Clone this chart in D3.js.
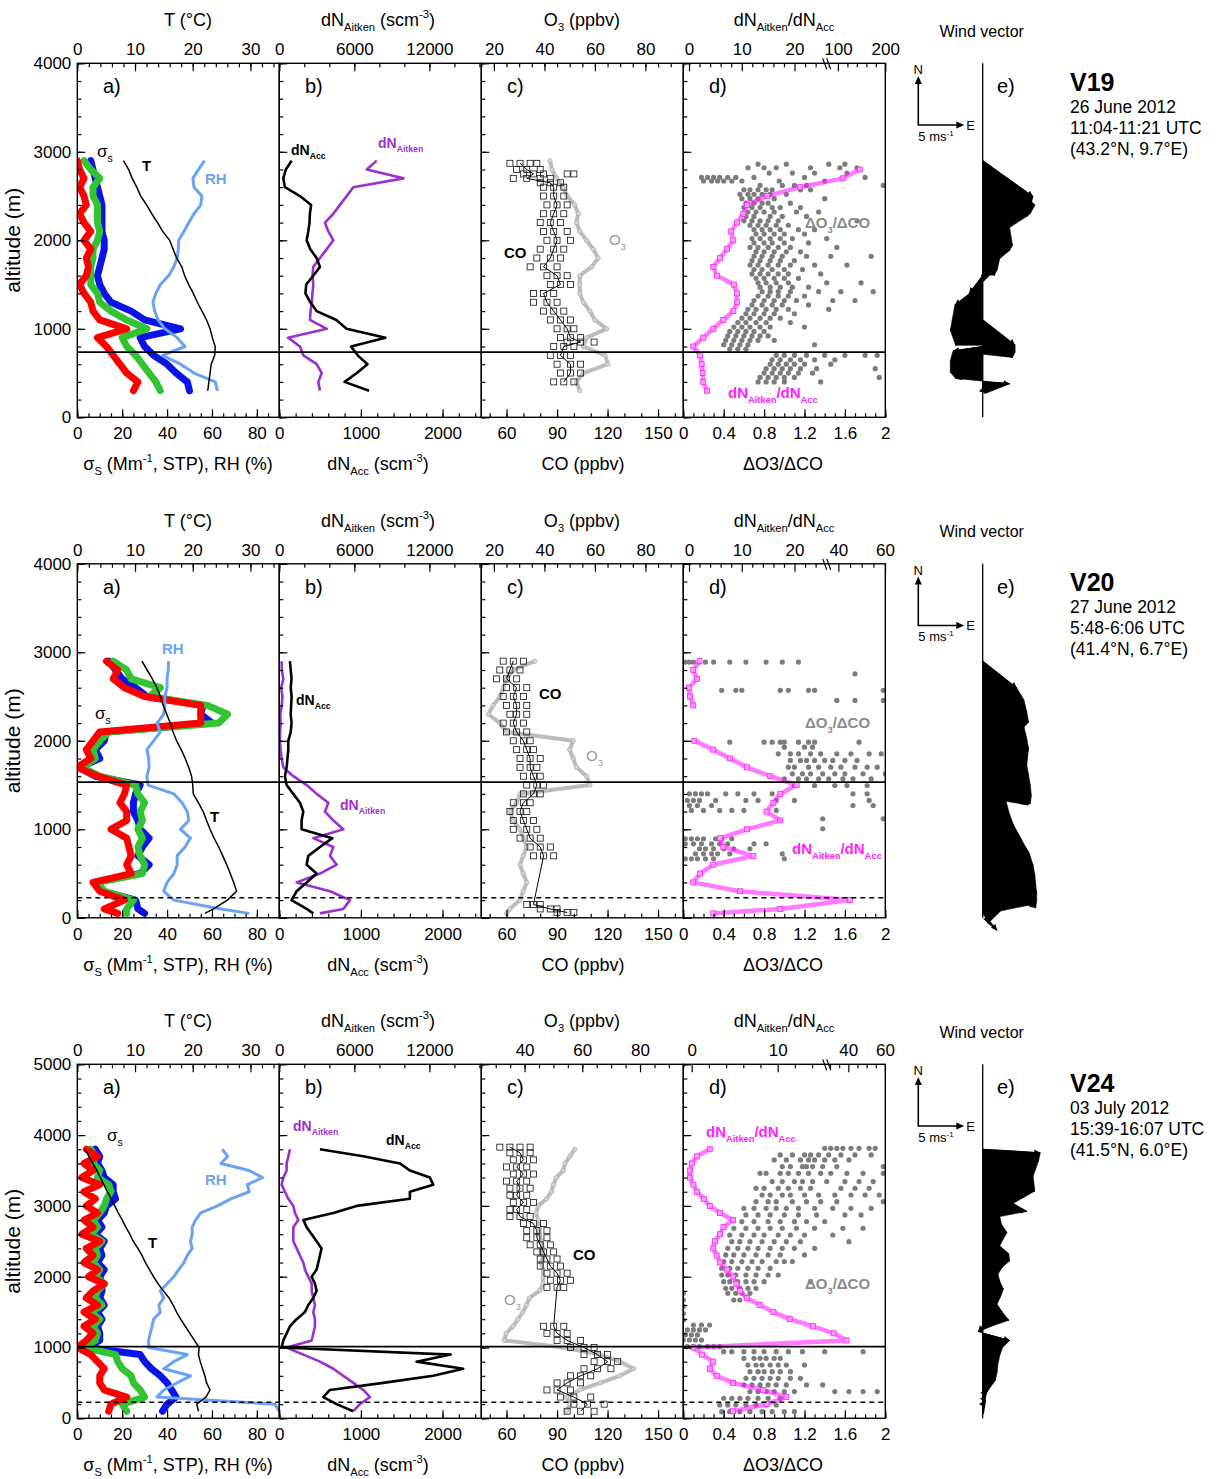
<!DOCTYPE html>
<html>
<head>
<meta charset="utf-8">
<script src="https://cdn.jsdelivr.net/npm/d3@7"></script>
<style>
  body { margin: 0; background: #fff; }
  svg { font-family: "Liberation Sans", Arial, sans-serif; }
</style>
</head>
<body>
<svg id="chart" width="1220" height="1479"></svg>
<script>
// ---------------- data: flight V19 ----------------
const alt1 = [300,400,500,600,700,800,900,1000,1100,1200,1300,1400,1500,1600,1700,1800,1900,2000,2100,2200,2300,2400,2500,2600,2700,2800,2900];
const sigR1 = [25,27,22,19,16,13,9,22,10,7,6,3,1,4,5,4,6,3,6,3,1,4,3,1,3,1,0];
const sigG1 = [37,35,32,29,26,22,20,31,22,15,10,9,6,6,6,7,7,9,10,9,9,9,7,7,10,6,3];
const sigB1 = [50,49,44,40,34,30,28,46,30,24,15,12,10,9,10,11,12,12,11,11,11,11,10,9,8,7,6];
const T1 = [22.6,22.8,23.0,23.2,23.8,23.9,23.4,23.0,22.4,21.6,20.8,20.1,19.3,18.6,18.1,17.2,16.6,16.0,14.8,13.9,12.9,12.0,11.0,10.3,9.5,8.9,8.0];
const RH1 = [62.4,61.5,52,46,38,48,44.5,39,36,34.5,33.7,35,37,40.7,43,44.5,45,45.2,47.5,49.7,52,55,55.5,52,51.5,54,56.7];
const acc1 = [1100,800,950,1080,960,880,1300,824,700,457,380,320,330,416,498,457,380,335,355,370,375,390,253,69,49,80,151];
const ait1 = [3250,3120,3390,2990,1920,1650,700,3800,2450,2500,2590,2650,2720,2650,2720,3250,3790,4320,3920,3650,4320,4850,5390,5920,9920,6990,7790];
const o3_1 = [54,52.7,55.4,65.2,64,55.4,56.7,64.6,60,58,55.4,54,54,54,58.7,61.3,59.3,56.7,54,52.7,53.4,52,49,47.4,44.8,43,42.2];
const rat1 = [3.4,2.7,2.6,2.4,2.1,0.8,2.7,4.6,6.5,8.4,9.1,9.1,8.5,5.3,4.6,5.9,7.2,8.4,8.0,9.1,10.3,11,14.8,21,110,146,null];
const u1 = [0.3,3.0,-3.0,-3.6,-3.6,-3.3,3.3,3.6,3.6,-3.0,-3.6,-3.4,-3.1,-1.5,0.2,0.8,1.3,1.6,1.9,3.0,3.3,3.0,5.0,5.3,5.8,5.3,5.6];
const v1 = [-0.3,-0.2,-0.6,-0.9,-0.6,-0.5,-2.2,-2.6,-2.8,-3.8,-3.1,-3.0,-2.3,-2.0,-1.5,-1.9,-2.9,-3.3,-3.0,-3.1,-3.5,-2.5,-2.2,-2.9,-3.0,-4.0,-4.0];
const co1 = [
  [2870,62,68,74,78],[2800,66,72,80],[2750,70,76,82,96,100],[2700,64,72,80,86],[2650,80,86,92],
  [2600,82,88,94],[2500,82,88,94],[2400,84,90,96],[2300,82,88,94],[2200,80,86,92],[2100,82,88,96],
  [2000,84,90,98],[1900,80,88,94],[1800,78,86,92],[1700,74,82,90],[1600,84,90,96],[1500,86,92,98],
  [1400,76,82,88],[1300,76,84,90],[1200,82,88,94],[1100,86,92,98],[1000,90,96,100],[900,92,98,104],
  [850,96,104,112],[800,88,94,100],[700,86,92,98],[600,90,98,104],[500,92,98,104],[400,88,94,100]
];
const dots1 = [
  [2860,0.74,1.02,1.44,1.60],[2820,0.64,0.80,0.92,1.26,1.55,1.72],[2760,0.85,1.08,1.30,1.62],
  [2710,0.18,0.24,0.30,0.36,0.44,0.52,0.70,1.20,1.80],[2670,0.20,0.28,0.34,0.40,0.48,0.58,0.95,1.40],
  [2620,0.76,0.98,1.10,1.22,1.98],[2570,0.60,0.66,0.74,0.82,0.88,1.16,1.26],[2520,0.56,0.64,0.70,0.78,0.86,1.02],
  [2470,0.58,0.66,0.74,0.90,1.40],[2420,0.62,0.70,0.78,0.84,1.06],[2370,0.60,0.68,0.76,0.88,0.96,1.16],
  [2320,0.64,0.72,0.80,0.90,1.12,1.34],[2270,0.62,0.70,0.86,0.98,1.22],[2220,0.60,0.68,0.76,0.84,0.94,1.72],
  [2170,0.66,0.74,0.82,0.92,1.04],[2120,0.70,0.78,0.86,0.96,1.14,1.30],[2070,0.72,0.80,0.90,1.00,1.20],
  [2020,0.68,0.76,0.86,0.96,1.08,1.42],[1970,0.70,0.80,0.88,1.00,1.24],[1920,0.66,0.74,0.84,0.94,1.06,1.52],
  [1870,0.72,0.80,0.90,1.02,1.16],[1820,0.70,0.78,0.88,0.98,1.22,1.46,1.86],[1770,0.68,0.76,0.86,0.96,1.10],
  [1720,0.66,0.74,0.84,0.94,1.06,1.30,1.62],[1670,0.70,0.78,0.88,1.00,1.18],[1620,0.68,0.76,0.84,0.94,1.04,1.36],
  [1570,0.72,0.80,0.90,1.00,1.14],[1520,0.74,0.82,0.92,1.04,1.42,1.76],[1470,0.76,0.86,0.96,1.08,1.24],
  [1420,0.78,0.86,0.94,1.06,1.34,1.56,1.88],[1370,0.74,0.84,0.94,1.04,1.20],[1320,0.70,0.80,0.90,1.00,1.12,1.48,1.70],
  [1270,0.68,0.78,0.88,0.98,1.24],[1220,0.64,0.72,0.82,0.92,1.04,1.44],[1170,0.62,0.70,0.80,0.90,1.10],
  [1120,0.58,0.66,0.76,0.86,0.96],[1070,0.54,0.62,0.72,0.82,1.06],[1020,0.50,0.58,0.66,0.76,0.86,1.20],
  [970,0.46,0.54,0.62,0.70,0.80],[920,0.44,0.52,0.60,0.68,0.76,0.84],[870,0.42,0.50,0.58,0.66,0.74,0.90],
  [820,0.40,0.48,0.56,0.64,1.30],[770,0.46,0.54,0.62],[700,0.92,1.00,1.10,1.22,1.40,1.60,1.80,1.92],
  [650,0.88,0.96,1.06,1.16,1.30,1.50],[600,0.86,0.94,1.02,1.10,1.20,1.46],[550,0.82,0.90,0.98,1.06,1.16,1.32,1.90],
  [500,0.80,0.88,0.96,1.04,1.14,1.28],[450,0.76,0.84,0.92,1.00,1.10,1.94],[400,0.74,0.82,0.90,1.00,1.36]
];

// ---------------- data: flight V20 ----------------
const alt2 = [50,100,200,300,400,500,600,700,800,900,1000,1100,1200,1300,1400,1500,1600,1700,1800,1900,2000,2100,2200,2300,2400,2500,2600,2700,2800,2900];
const sigR2 = [18,12,21,10,7,24,22,24,23,22,15,22,22,19,21,22,9,0,6,4,7,10,55,55,55,30,21,16,18,13];
const sigG2 = [22,22,25,12,9,29,30,28,27,29,27,29,28,30,27,26,10,2,8,7,10,14,63,67,58,32,37,24,22,16];
const sigB2 = [30,27,26,11,8,28,32,27,29,32,28,27,25,25,26,28,8,1,10,8,12,13,60,55,56,31,26,20,17,14];
const T2 = [22.1,23.6,26.0,27.6,27.1,26.5,25.9,25.2,24.5,23.7,23.0,22.4,21.8,21.0,20.1,20.0,19.8,19.3,18.7,18.0,17.2,16.6,16.1,15.5,14.9,14.4,13.8,13.0,12.1,11.2];
const RH2 = [76.6,64,43,38.5,40,43,44.5,44.5,48,50.4,46,49.7,49,46.7,43,31.5,31,32,31.8,31,34,37,35.5,38.5,39,39,40,40,40.5,40.7];
const acc2 = [416,335,150,212,335,457,335,355,498,650,273,273,294,253,171,90,69,90,100,110,110,140,150,140,145,151,140,150,140,130];
const ait2 = [3250,5120,5650,4050,1390,3250,4590,4050,4320,2720,5120,4320,3650,3920,2990,2190,1120,320,187,100,53,60,110,80,200,250,150,320,200,187];
const o3_2 = [25,26.3,30.3,31.6,33,31.6,30.3,31.6,33,31.6,30.3,27.7,26.3,29,30.3,58,56.7,52.7,51.4,50,51.4,25,22.4,17.8,19.7,22.4,23.7,25,27.7,36.2];
const rat2 = [4.6,17.3,45,9.7,0.8,2.1,4.6,12.2,6.5,5.9,11,17.3,14.7,16,17.3,20.4,15.4,11,7.8,4.6,1.0,null,null,null,0.8,0.2,0,1.5,0.8,2];
const u2 = [1.6,0.6,2.0,4.8,5.6,5.9,6.0,6.0,5.9,5.8,5.6,5.2,4.3,3.4,2.9,2.6,5.0,5.3,5.4,5.3,5.1,4.9,5.0,5.1,4.9,4.6,5.1,4.9,4.6,3.8];
const v2 = [-1.9,-1.6,-1.2,-1.6,-2.5,-3.8,-4.0,-4.1,-4.2,-4.1,-4.0,-3.7,-3.1,-2.4,-2.0,-1.8,-3.2,-4.0,-4.1,-4.0,-3.8,-3.7,-3.7,-3.8,-3.7,-3.4,-3.8,-3.7,-3.4,-3.0];
const co2 = [
  [2900,58,64,70],[2800,56,62,68],[2700,54,60,66],[2600,60,66,72],[2500,58,64,70],[2400,60,66,72],
  [2300,62,66,72],[2200,58,64,70],[2100,60,66,72],[2000,64,70,74],[1900,66,72,76],[1800,68,74,80],
  [1700,68,74,78],[1600,70,76,80],[1500,72,78,82],[1400,70,76,80],[1300,64,70,74],[1200,62,68,72],
  [1100,64,70,76],[1000,64,72,78],[900,68,74,80],[800,74,80,86],[700,76,82,88],
  [150,72,76,80],[100,80,86,90],[60,90,96,100]
];
const dots2 = [
  [2890,0.02,0.06,0.10,0.16,0.22,0.30,0.46,0.62,0.82,0.98,1.14],[2757,1.70],
  [2570,0.38,0.52,0.58,0.96,1.04,1.24,1.30,1.98],[2456,1.52,1.70,1.98],
  [1985,0.46,0.80,0.88,0.96,1.00,1.14,1.24,1.30,1.74],[1928,1.00,1.20,1.28],
  [1853,0.94,1.06,1.14,1.26,1.36,1.52,1.66,1.84,1.96],[1778,1.06,1.16,1.22,1.30,1.40,1.48,1.60,1.72],
  [1702,1.04,1.10,1.24,1.34,1.46,1.56,1.70,1.82,1.92],[1627,1.08,1.18,1.26,1.38,1.50,1.60,1.78,2.00],
  [1570,1.00,1.14,1.22,1.34,1.44,1.58,1.68,1.86],[1495,1.10,1.30,1.50,1.62,1.82],
  [1401,0.06,0.12,0.18,0.24,0.42,0.54,0.70,0.88,1.68,1.82],[1326,0.04,0.10,0.16,0.32,0.62,0.74,0.92,1.10,1.84],
  [1269,0.06,0.14,0.28,1.68,1.88],[1213,0.08,0.20,0.36,0.48,0.60,0.92],[1119,1.38,1.98],[1006,1.38],
  [893,0.02,0.08,0.14,0.20,0.32,0.38,0.48],[836,0.02,0.10,0.18,0.28,0.36,0.44,0.70,0.82],
  [780,0.16,0.22,0.30,0.40,0.50,0.66],[723,0.12,0.20,0.28,0.34,0.46,0.98],[667,0.02,0.08,0.14,0.22,0.30,1.00]
];

// ---------------- data: flight V24 ----------------
const alt3 = [100,200,300,400,500,600,700,800,900,1000,1100,1200,1300,1400,1500,1600,1700,1800,1900,2000,2100,2200,2300,2400,2500,2600,2700,2800,2900,3000,3100,3200,3300,3400,3500,3600,3700,3800];
const sigR3 = [14,15,22,12,10,10,12,9,6,0,4,7,3,8,3,9,4,7,12,5,9,3,7,4,10,2,7,3,9,4,8,3,10,2,7,3,9,4];
const sigG3 = [22,20,30,28,25,24,20,18,17,3,8,9,7,10,6,11,8,9,12,8,10,7,9,8,11,6,9,7,10,12,13,15,14,9,10,7,8,6];
const sigB3 = [38,40,44,42,40,37,33,30,28,4,10,10,9,11,9,12,10,11,11,10,12,9,11,10,12,8,11,9,12,13,17,16,16,12,11,9,10,8];
const T3 = [21.0,20.7,22.3,23.0,22.4,22.1,21.7,21.3,21.0,21.1,20.3,19.5,18.7,17.9,17.2,16.6,15.9,14.9,14.0,13.2,12.5,11.8,11.2,10.5,9.7,9.1,8.4,7.8,7.1,6.5,5.9,5.2,4.6,4.0,3.4,2.7,2.0,1.4];
const RH3 = [90,88,35.5,38.5,44.5,50.4,38.5,43,49,31.8,31.8,32.5,33.3,34,37,36.3,38.5,37,40,43,45.2,47.5,49,51.2,50.4,51.2,51.2,52.7,55,62.4,68.4,76.6,75.8,82.5,76.6,64,67,64.6];
const acc3 = [906,702,539,620,1273,1886,2253,1682,2100,29,49,90,131,212,314,355,416,457,437,396,457,478,498,518,457,396,335,294,661,947,1600,1600,1886,1845,1600,1478,1029,498];
const ait3 = [5920,6450,7250,6720,5920,5120,4320,3250,1920,587,2590,2720,2850,2850,2720,2850,2720,2590,2590,2320,2050,1920,1650,1390,1120,1120,1120,1520,1253,1120,720,450,187,320,587,587,720,853];
const o3_3 = [54.5,55.7,54.5,59.2,66.2,73,77.8,73.1,66.2,53.4,33,33.6,36,37.7,39.4,40.6,41.7,45.2,46.4,46.4,46.4,45.8,46.4,46.4,45.8,45.2,45.2,44.7,44,44.7,47.6,49.3,50,51,53.4,54,55.7,57.4];
const rat3 = [4.8,8.7,11,8.3,4.8,2.9,2.1,2.5,1.2,0.2,39,32,14.1,11.4,9.5,7.9,6.4,5.6,5.2,4.8,4.1,3.3,2.9,2.5,2.7,3.3,3.7,4.8,3.3,2.1,1.4,0.6,0.2,-0.2,-0.2,0,0.6,2.1];
const u3 = [0.1,0.2,0.3,0.3,0.5,0.9,1.4,1.6,1.7,1.9,2.2,3.0,-0.5,1.2,2.9,2.2,1.6,2.0,2.3,1.9,1.7,2.2,3.0,2.9,1.9,2.3,2.7,2.1,1.9,4.9,3.4,4.6,5.8,5.7,5.6,5.9,6.2,6.4];
const v3 = [-0.3,-0.4,-0.6,-0.8,-1.0,-1.2,-1.3,-1.2,-1.0,-0.9,-0.8,-0.8,-0.6,-0.7,-0.9,-0.8,-0.7,-0.6,-0.6,-0.5,-0.5,-0.5,-0.6,-0.6,-0.5,-0.5,-0.6,-0.5,-0.4,-0.6,-0.5,-0.6,-0.7,-0.7,-0.6,-0.6,-0.5,-0.4];
const co3 = [
  [3830,56,62,68,74],[3750,62,68,74],[3650,64,70,76],[3550,60,66,72],[3450,64,70,76],[3350,60,66,72],
  [3250,62,68,74],[3150,62,66,72],[3050,64,70,76],[2950,62,66,72],[2850,62,68,74],[2750,70,76,82],
  [2650,72,78,84],[2550,72,78,84],[2450,74,80,86],[2350,78,82,88],[2250,80,84,90],[2150,80,86,92],
  [2050,84,90,96],[1950,86,92,98],[1850,84,90,94],[1300,82,88,94],[1200,84,90,96],[1100,90,96,104],
  [1000,98,106,112],[900,106,114,120],[800,112,120,126],[700,106,114,122],[600,98,104,110],
  [500,90,96,104],[400,84,90,98],[300,92,100,110],[200,100,108,118],[100,96,104,112]
];
const dots3 = [
  [3813,1.40,1.46,1.52,1.58,1.66,1.74,1.84,1.90],[3720,0.96,1.08,1.20,1.26,1.34,1.44,1.56,1.70,1.86],
  [3650,0.90,1.02,1.16,1.24,1.30,1.40,1.50,1.64],[3555,0.98,1.06,1.18,1.22,1.28,1.38,1.52,1.98],
  [3460,0.76,0.82,0.96,1.04,1.14,1.24,1.36,1.46,1.62,1.78,1.98],[3343,0.88,0.98,1.10,1.18,1.28,1.42,1.60,1.74,1.88],
  [3249,0.72,0.80,0.94,1.04,1.16,1.26,1.56,1.70,1.84],[3154,0.78,0.86,0.98,1.06,1.20,1.34,1.50,1.66,1.80,1.94],
  [3060,0.72,0.84,0.92,1.08,1.22,1.36,1.52,1.98],[2966,0.60,0.70,0.82,0.92,1.02,1.14,1.30,1.48,1.66,1.86],
  [2872,0.62,0.74,0.86,1.00,1.14,1.32,1.60,1.76],[2778,0.58,0.70,0.84,0.96,1.10,1.22,1.40],
  [2684,0.50,0.62,0.74,0.86,0.98,1.12,1.30,1.58,1.78],[2589,0.46,0.58,0.70,0.80,0.94,1.06,1.20,1.48],
  [2495,0.48,0.56,0.66,0.78,0.90,1.02,1.16,1.64],[2401,0.44,0.54,0.64,0.74,0.86,0.98,1.10,1.30],
  [2307,0.42,0.50,0.60,0.72,0.84,0.96,1.20],[2213,0.40,0.48,0.58,0.68,0.78,0.92,1.00,1.08],
  [2119,0.38,0.46,0.54,0.64,0.74,0.86],[2024,0.38,0.44,0.52,0.62,0.72,0.84,0.94],
  [1930,0.40,0.46,0.54,0.62,0.70,0.80,1.26],[1836,0.42,0.48,0.56,0.64,0.72],[1766,0.44,0.52,0.58,0.66,0.0],
  [1671,0.50,0.56,0.0],[1580,0.0],[1480,0.0],[1390,0.0],
  [1318,0.10,0.18,0.26],[1248,0.04,0.10,0.16,0.22],[1177,0.02,0.08,0.14],[1106,0.00,0.06,0.12,0.18],
  [1012,0.04,0.10,0.16,0.24,0.30,0.36],[941,0.40,0.48,0.60,0.70,0.80,0.92,1.04,1.18,1.40,1.78],
  [847,0.60,0.70,0.76,0.82,0.90,0.96],[753,0.64,0.72,0.78,0.86,0.94,1.02,1.20],
  [659,0.66,0.74,0.80,0.88,0.96,1.06],[565,0.62,0.70,0.78,0.86,0.94,1.06,1.16],
  [471,0.60,0.68,0.76,0.84,0.92,1.02,1.22,1.38],[377,0.66,0.74,0.82,0.90,1.00,1.10,1.50,1.64,1.78,1.92],
  [282,0.40,0.48,0.56,0.64,0.74,0.84,0.96],[188,0.36,0.44,0.52,0.62,0.72,0.82,0.92],
  [94,0.38,0.46,0.56,0.66,0.78,0.88,1.00,1.10]
];

// boundary-layer lines [solid, dashed] in m
const refLines = [[736, null], [1533, 226], [1012, 226]];

// tick labels
const tTicks = [0, 10, 20, 30];
const sigTicks = [0, 20, 40, 60, 80];
const aitTicks = [0, 6000, 12000];
const accTicks = [0, 1000, 2000];
const coTicks = [60, 90, 120, 150];
const dTicks = [0, 0.4, 0.8, 1.2, 1.6, 2];
const o3Ticks12 = [20, 40, 60, 80];
const o3Ticks3 = [40, 60, 80];
const ratTicks = [[0, 10, 20, 100, 200], [0, 10, 20, 40, 60], [0, 10, 40, 60]];

const flights = ['V19', 'V20', 'V24'];
const dates = ['26 June 2012', '27 June 2012', '03 July 2012'];
const times = ['11:04-11:21 UTC', '5:48-6:06 UTC', '15:39-16:07 UTC'];
const places = ['(43.2°N, 9.7°E)', '(41.4°N, 6.7°E)', '(41.5°N, 6.0°E)'];

// ---------------- layout ----------------
const svg = d3.select('#chart');
const PW = 202, PH = 354;
const panelX = [77.3, 279.3, 481.3, 683.3];
const windX = 982.7;
const BRK = 143.4;
const ws = d3.scaleLinear().domain([0, 5]).range([0, 45]);

const C = {
  blue: '#0a14e6', green: '#33c433', red: '#ff0000', rh: '#6aa2f6',
  purple: '#9b30cf', pink: '#ff22ff', gray: '#7c7c7c', o3: '#bcbcbc'
};

const rows = [
  { top: 63.3, altMax: 4000, alt: alt1, sigR: sigR1, sigG: sigG1, sigB: sigB1, T: T1, RH: RH1,
    acc: acc1, ait: ait1, o3: o3_1, rat: rat1, co: co1, dots: dots1, u: u1, v: v1, ref: refLines[0],
    o3Dom: [15, 95], o3Ticks: o3Ticks12,
    ratDom: [-1.08, 26.1, 76.3, 200], ratMajor: ratTicks[0],
    ratMinor: [2,4,6,8,12,14,16,18,22,24,80,120,140,160,180],
    lab: { sig: [97, 157], T: [142, 171], RH: [205, 184], acc: [291, 155], ait: [378, 148],
           co: [504, 258], o3: [609, 245], dco: [805, 228], rat: [728, 398] } },
  { top: 563.8, altMax: 4000, alt: alt2, sigR: sigR2, sigG: sigG2, sigB: sigB2, T: T2, RH: RH2,
    acc: acc2, ait: ait2, o3: o3_2, rat: rat2, co: co2, dots: dots2, u: u2, v: v2, ref: refLines[1],
    o3Dom: [15, 95], o3Ticks: o3Ticks12,
    ratDom: [-1.08, 26.1, 35, 60.1], ratMajor: ratTicks[1],
    ratMinor: [2,4,6,8,12,14,16,18,22,24,45,50,55],
    lab: { sig: [95, 719], T: [210, 822], RH: [162, 654], acc: [296, 705], ait: [340, 810],
           co: [539, 699], o3: [586, 761], dco: [805, 728], rat: [792, 854] } },
  { top: 1064.3, altMax: 5000, alt: alt3, sigR: sigR3, sigG: sigG3, sigB: sigB3, T: T3, RH: RH3,
    acc: acc3, ait: ait3, o3: o3_3, rat: rat3, co: co3, dots: dots3, u: u3, v: v3, ref: refLines[2],
    o3Dom: [25, 95], o3Ticks: o3Ticks3,
    ratDom: [-0.98, 15.7, 28.2, 60.2], ratMajor: ratTicks[2],
    ratMinor: [2,4,6,8,12,14,30,35,45,50,55],
    lab: { sig: [107, 1141], T: [148, 1248], RH: [205, 1185], acc: [386, 1145], ait: [293, 1131],
           co: [573, 1260], o3: [504, 1305], dco: [805, 1289], rat: [706, 1137] } }
];

svg.append('defs').append('clipPath').attr('id', 'pclip')
  .append('rect').attr('width', PW).attr('height', PH);

// text with sub/superscripts: parts = [[text, ''|'sub'|'sup'], ...]
function rich(parent, x, y, parts, o) {
  o = o || {};
  const size = o.size || 17;
  const t = parent.append('text').attr('x', x).attr('y', y)
    .attr('font-size', size)
    .attr('text-anchor', o.anchor || 'start')
    .attr('font-weight', o.weight || 'normal')
    .attr('fill', o.fill || '#000');
  if (o.rotate) t.attr('transform', `rotate(${o.rotate},${x},${y})`);
  let shift = 0;
  parts.forEach(([s, k]) => {
    const target = k === 'sub' ? size * 0.3 : k === 'sup' ? -size * 0.42 : 0;
    t.append('tspan').attr('dy', target - shift)
      .attr('font-size', k ? size * 0.62 : size).text(s);
    shift = target;
  });
  return t;
}

function styleAxis(s) {
  s.select('.domain').remove();
  s.attr('font-size', 17).attr('font-family', null);
  s.selectAll('line').attr('stroke-width', 1.2);
}

function axisH(g, scale, where, major, minor, fmt) {
  const mk = where === 'top' ? d3.axisTop : d3.axisBottom;
  const ty = where === 'top' ? 0 : PH;
  g.append('g').attr('transform', `translate(0,${ty})`)
    .call(mk(scale).tickValues(minor).tickSize(-4).tickFormat(''))
    .call(styleAxis);
  g.append('g').attr('transform', `translate(0,${ty})`)
    .call(mk(scale).tickValues(major).tickSize(-8)
      .tickPadding(where === 'top' ? 8 : 10).tickFormat(fmt || (d => String(d))))
    .call(styleAxis);
}

const str = d => String(d);

rows.forEach((r, ri) => {
  const y = d3.scaleLinear().domain([0, r.altMax]).range([PH, 0]);
  const pg = panelX.map(x => svg.append('g').attr('transform', `translate(${x},${r.top})`));
  const dg = pg.map(g => g.append('g').attr('clip-path', 'url(#pclip)'));
  const off = r.top;

  const line = (xsc, vals) => d3.line()
    .defined((d, i) => vals[i] != null)
    .x((d, i) => xsc(vals[i])).y(d => y(d));

  // ---------- a) scattering, T, RH ----------
  const xs = d3.scaleLinear().domain([0, 90]).range([0, PW]);
  const xt = d3.scaleLinear().domain([0, 35]).range([0, PW]);
  [[r.sigB, C.blue], [r.sigG, C.green], [r.sigR, C.red]].forEach(([vals, col]) => {
    dg[0].append('path').datum(r.alt).attr('d', line(xs, vals))
      .attr('fill', 'none').attr('stroke', col).attr('stroke-width', 7)
      .attr('stroke-linejoin', 'round').attr('stroke-linecap', 'round');
  });
  dg[0].append('path').datum(r.alt).attr('d', line(xs, r.RH))
    .attr('fill', 'none').attr('stroke', C.rh).attr('stroke-width', 3).attr('stroke-linejoin', 'round');
  dg[0].append('path').datum(r.alt).attr('d', line(xt, r.T))
    .attr('fill', 'none').attr('stroke', '#000').attr('stroke-width', 1.5);

  // ---------- b) particle number ----------
  const xacc = d3.scaleLinear().domain([0, 2475]).range([0, PW]);
  const xait = d3.scaleLinear().domain([0, 16150]).range([0, PW]);
  dg[1].append('path').datum(r.alt).attr('d', line(xait, r.ait))
    .attr('fill', 'none').attr('stroke', C.purple).attr('stroke-width', 2.6).attr('stroke-linejoin', 'round');
  dg[1].append('path').datum(r.alt).attr('d', line(xacc, r.acc))
    .attr('fill', 'none').attr('stroke', '#000').attr('stroke-width', 2.6).attr('stroke-linejoin', 'round');

  // ---------- c) O3 and CO ----------
  const xco = d3.scaleLinear().domain([45, 165]).range([0, PW]);
  const xo3 = d3.scaleLinear().domain(r.o3Dom).range([0, PW]);
  dg[2].append('path').datum(r.alt).attr('d', line(xo3, r.o3))
    .attr('fill', 'none').attr('stroke', C.o3).attr('stroke-width', 4).attr('stroke-linejoin', 'round');
  dg[2].selectAll('circle.o3').data(r.alt).join('circle').attr('class', 'o3')
    .attr('cx', (d, i) => xo3(r.o3[i])).attr('cy', d => y(d)).attr('r', 2.2)
    .attr('fill', '#d4d4d4').attr('stroke', '#a8a8a8').attr('stroke-width', 0.6);
  dg[2].append('path').datum(r.co)
    .attr('d', d3.line().x(d => xco(d[2])).y(d => y(d[0])))
    .attr('fill', 'none').attr('stroke', '#000').attr('stroke-width', 1);
  const coPts = r.co.flatMap(d => d.slice(1).map(v => [d[0], v]));
  dg[2].selectAll('rect.co').data(coPts).join('rect').attr('class', 'co')
    .attr('x', d => xco(d[1]) - 3).attr('y', d => y(d[0]) - 3)
    .attr('width', 6).attr('height', 6)
    .attr('fill', 'none').attr('stroke', '#111').attr('stroke-width', 0.8);

  // ---------- d) ratios ----------
  const xd = d3.scaleLinear().domain([0, 2]).range([0, PW]);
  const xr = d3.scaleLinear().domain(r.ratDom).range([0, BRK, BRK, PW]);
  const dotPts = r.dots.flatMap(d => d.slice(1).map(v => [d[0], v]));
  dg[3].selectAll('circle.dot').data(dotPts).join('circle').attr('class', 'dot')
    .attr('cx', d => xd(d[1])).attr('cy', d => y(d[0])).attr('r', 2.6).attr('fill', C.gray);
  dg[3].append('path').datum(r.alt).attr('d', line(xr, r.rat))
    .attr('fill', 'none').attr('stroke', C.pink).attr('stroke-width', 4.5)
    .attr('stroke-opacity', 0.6).attr('stroke-linejoin', 'round');
  dg[3].selectAll('rect.rat').data(r.alt.filter((d, i) => r.rat[i] != null)).join('rect').attr('class', 'rat')
    .attr('x', d => xr(r.rat[r.alt.indexOf(d)]) - 2.5).attr('y', d => y(d) - 2.5)
    .attr('width', 5).attr('height', 5)
    .attr('fill', '#ff9cff').attr('stroke', C.pink).attr('stroke-width', 0.8);

  // ---------- axes ----------
  const yMajor = d3.range(0, r.altMax + 1, 1000);
  const yMinor = d3.range(0, r.altMax + 1, 200);
  pg.forEach((g, k) => {
    g.append('g').call(d3.axisLeft(y).tickValues(yMinor).tickSize(-4).tickFormat('')).call(styleAxis);
    g.append('g').call(d3.axisLeft(y).tickValues(yMajor).tickSize(-8).tickPadding(6)
      .tickFormat(k === 0 ? str : '')).call(styleAxis);
  });
  axisH(pg[0], xt, 'top', tTicks, d3.range(0, 35.1, 2));
  axisH(pg[0], xs, 'bottom', sigTicks, d3.range(0, 90.1, 5));
  axisH(pg[1], xait, 'top', aitTicks, d3.range(0, 16001, 2000));
  axisH(pg[1], xacc, 'bottom', accTicks, d3.range(0, 2401, 200));
  axisH(pg[2], xo3, 'top', r.o3Ticks, d3.range(r.o3Dom[0], r.o3Dom[1] + 0.1, 5));
  axisH(pg[2], xco, 'bottom', coTicks, d3.range(50, 161, 10));
  axisH(pg[3], xr, 'top', r.ratMajor, r.ratMinor);
  axisH(pg[3], xd, 'bottom', dTicks, d3.range(0, 2.01, 0.1));

  // axis break on top of panel d
  pg[3].append('rect').attr('x', BRK - 3).attr('y', -2).attr('width', 6).attr('height', 5).attr('fill', '#fff');
  [-2, 2].forEach(dx => pg[3].append('line')
    .attr('x1', BRK + dx - 2).attr('y1', -5).attr('x2', BRK + dx + 2).attr('y2', 6)
    .attr('stroke', '#000').attr('stroke-width', 1.1));

  // ---------- reference lines ----------
  const refG = svg.append('g').attr('transform', `translate(0,${off})`);
  if (r.ref[0] != null) refG.append('line').attr('x1', panelX[0]).attr('x2', panelX[3] + PW)
    .attr('y1', y(r.ref[0])).attr('y2', y(r.ref[0])).attr('stroke', '#000').attr('stroke-width', 1.6);
  if (r.ref[1] != null) refG.append('line').attr('x1', panelX[0]).attr('x2', panelX[3] + PW)
    .attr('y1', y(r.ref[1])).attr('y2', y(r.ref[1])).attr('stroke', '#000').attr('stroke-width', 1.6)
    .attr('stroke-dasharray', '5,4');

  // frames
  pg.forEach(g => g.append('rect').attr('width', PW).attr('height', PH)
    .attr('fill', 'none').attr('stroke', '#000').attr('stroke-width', 1.4));

  // ---------- axis titles ----------
  rich(svg, 20, off + PH / 2 + 0, [['altitude (m)', '']], { size: 21, anchor: 'middle', rotate: -90 })
    .attr('dy', 7);
  rich(svg, 188, off - 37.3, [['T (°C)', '']], { size: 18, anchor: 'middle' });
  rich(svg, 378, off - 37.3, [['dN', ''], ['Aitken', 'sub'], [' (scm', ''], ['-3', 'sup'], [')', '']], { size: 18, anchor: 'middle' });
  rich(svg, 582, off - 37.3, [['O', ''], ['3', 'sub'], [' (ppbv)', '']], { size: 18, anchor: 'middle' });
  rich(svg, 784, off - 37.3, [['dN', ''], ['Aitken', 'sub'], ['/dN', ''], ['Acc', 'sub']], { size: 18, anchor: 'middle' });
  rich(svg, 178, off + 406.7, [['σ', ''], ['S', 'sub'], [' (Mm', ''], ['-1', 'sup'], [', STP), RH (%)', '']], { size: 18, anchor: 'middle' });
  rich(svg, 378, off + 406.7, [['dN', ''], ['Acc', 'sub'], [' (scm', ''], ['-3', 'sup'], [')', '']], { size: 18, anchor: 'middle' });
  rich(svg, 583, off + 406.7, [['CO (ppbv)', '']], { size: 18, anchor: 'middle' });
  rich(svg, 783, off + 406.7, [['ΔO3/ΔCO', '']], { size: 18, anchor: 'middle' });

  // panel letters
  [['a)', 103], ['b)', 305], ['c)', 507], ['d)', 709], ['e)', 997]].forEach(([t, x]) =>
    rich(svg, x, off + 29.7, [[t, '']], { size: 20 }));

  // in-panel labels
  const L = r.lab;
  rich(svg, L.sig[0], L.sig[1], [['σ', ''], ['s', 'sub']], { size: 17 });
  rich(svg, L.T[0], L.T[1], [['T', '']], { size: 15, weight: 'bold' });
  rich(svg, L.RH[0], L.RH[1], [['RH', '']], { size: 15, weight: 'bold', fill: C.rh });
  rich(svg, L.acc[0], L.acc[1], [['dN', ''], ['Acc', 'sub']], { size: 14, weight: 'bold' });
  rich(svg, L.ait[0], L.ait[1], [['dN', ''], ['Aitken', 'sub']], { size: 14, weight: 'bold', fill: C.purple });
  rich(svg, L.co[0], L.co[1], [['CO', '']], { size: 15, weight: 'bold' });
  rich(svg, L.o3[0], L.o3[1], [['O', ''], ['3', 'sub']], { size: 15, fill: '#9a9a9a' });
  rich(svg, L.dco[0], L.dco[1], [['ΔO', ''], ['3', 'sub'], ['/ΔCO', '']], { size: 15, weight: 'bold', fill: '#8a8a8a' });
  rich(svg, L.rat[0], L.rat[1], [['dN', ''], ['Aitken', 'sub'], ['/dN', ''], ['Acc', 'sub']], { size: 15, weight: 'bold', fill: C.pink });

  // ---------- e) wind vectors ----------
  const wg = svg.append('g').attr('transform', `translate(0,${off})`);
  rich(wg, 981.7, -26.6, [['Wind vector', '']], { size: 16, anchor: 'middle' });
  const vec = r.alt.map((a, i) => ({
    ox: windX, oy: y(a),
    tx: windX + ws(r.u[i]), ty: y(a) - ws(r.v[i])
  }));
  const quads = d3.pairs(vec);
  wg.selectAll('path.q').data(quads).join('path').attr('class', 'q')
    .attr('d', ([p, q]) => `M${p.ox},${p.oy}L${p.tx},${p.ty}L${q.tx},${q.ty}L${q.ox},${q.oy}Z`)
    .attr('fill', '#000').attr('stroke', '#000').attr('stroke-width', 0.6);
  wg.selectAll('line.w').data(vec).join('line').attr('class', 'w')
    .attr('x1', d => d.ox).attr('y1', d => d.oy).attr('x2', d => d.tx).attr('y2', d => d.ty)
    .attr('stroke', '#000').attr('stroke-width', 1.2);
  wg.selectAll('path.h').data(vec.filter(d => Math.hypot(d.tx - d.ox, d.ty - d.oy) > 3)).join('path').attr('class', 'h')
    .attr('d', d => {
      const a = Math.atan2(d.ty - d.oy, d.tx - d.ox), L2 = 6, W2 = 3;
      const bx = d.tx - L2 * Math.cos(a), by = d.ty - L2 * Math.sin(a);
      return `M${d.tx},${d.ty}L${bx - W2 * Math.sin(a)},${by + W2 * Math.cos(a)}L${bx + W2 * Math.sin(a)},${by - W2 * Math.cos(a)}Z`;
    }).attr('fill', '#000');
  wg.append('line').attr('x1', windX).attr('x2', windX).attr('y1', 0).attr('y2', PH)
    .attr('stroke', '#000').attr('stroke-width', 1.3);

  // compass legend
  const lx = 918.3, ly = 61.7;
  wg.append('path').attr('d', `M${lx},${ly - 45}L${lx},${ly}L${lx + ws(5) - 4},${ly}`)
    .attr('fill', 'none').attr('stroke', '#000').attr('stroke-width', 1.6);
  wg.append('path').attr('d', `M${lx},${ly - 49}L${lx - 3.5},${ly - 41}L${lx + 3.5},${ly - 41}Z`).attr('fill', '#000');
  wg.append('path').attr('d', `M${lx + ws(5) + 1},${ly}L${lx + ws(5) - 7},${ly - 3.5}L${lx + ws(5) - 7},${ly + 3.5}Z`).attr('fill', '#000');
  rich(wg, lx, ly - 51, [['N', '']], { size: 13, anchor: 'middle' });
  rich(wg, lx + ws(5) + 3, ly + 5, [['E', '']], { size: 13 });
  rich(wg, lx, ly + 16, [['5 ms', ''], ['-1', 'sup']], { size: 13 });

  // flight info
  rich(svg, 1070, off + 27.4, [[flights[ri], '']], { size: 25, weight: 'bold' });
  rich(svg, 1070, off + 49.4, [[dates[ri], '']], { size: 17.5 });
  rich(svg, 1070, off + 70.4, [[times[ri], '']], { size: 17.5 });
  rich(svg, 1070, off + 91.6, [[places[ri], '']], { size: 17.5 });
});
</script>
</body>
</html>
